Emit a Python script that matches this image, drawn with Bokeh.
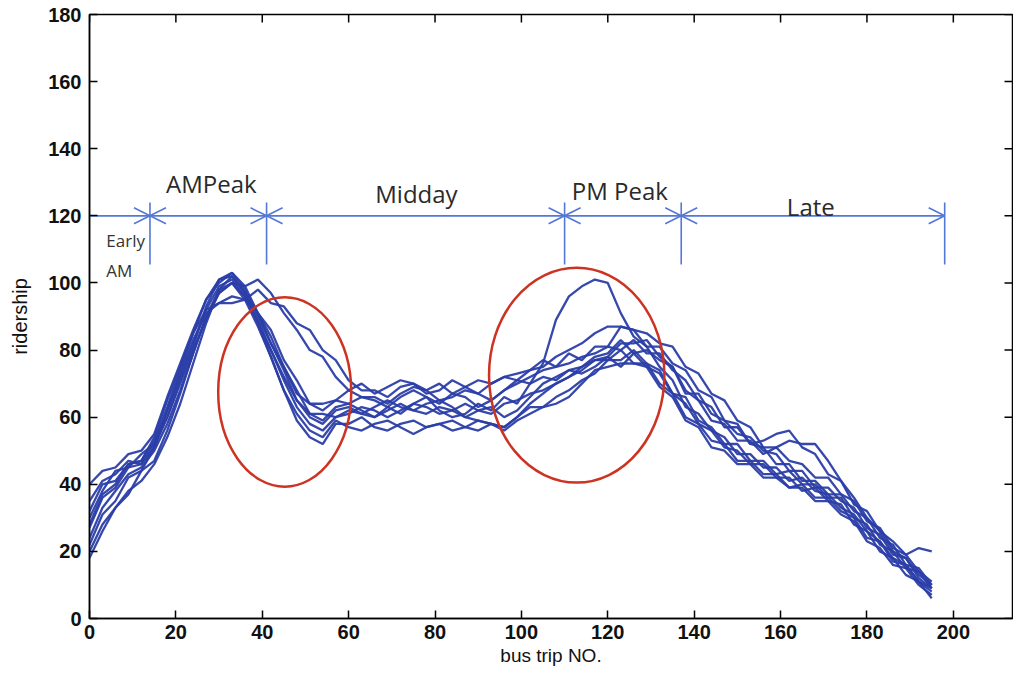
from bokeh.plotting import figure
from bokeh.models import Range1d, Arrow, OpenHead, FixedTicker
from bokeh.core.properties import value
from bokeh.embed import file_html
from bokeh.resources import INLINE

# ---------------- data ----------------
trip = [0, 3, 6, 9, 12, 15, 18, 21, 24, 27, 30, 33, 36, 39, 42, 45, 48, 51, 54, 57,
        60, 63, 66, 69, 72, 75, 78, 81, 84, 87, 90, 93, 96, 99, 102, 105, 108, 111, 114, 117,
        120, 123, 126, 129, 132, 135, 138, 141, 144, 147, 150, 153, 156, 159, 162, 165, 168, 171, 174, 177,
        180, 183, 186, 189, 192, 195]

day1 = [24, 33, 38, 43, 45, 50, 58, 68, 79, 90, 97, 100, 96, 88, 80, 72, 65, 61, 59, 63,
        64, 62, 60, 63, 61, 64, 66, 62, 60, 61, 64, 62, 66, 64, 70, 76, 89, 96, 99, 101,
        100, 91, 84, 81, 75, 71, 63, 61, 56, 54, 49, 49, 45, 45, 41, 42, 38, 37, 33, 31,
        26, 23, 18, 16, 11, 8]
day2 = [30, 38, 44, 45, 49, 52, 60, 70, 80, 89, 97, 100, 99, 101, 97, 91, 86, 80, 78, 72,
        68, 66, 66, 64, 67, 69, 68, 65, 66, 68, 67, 65, 68, 71, 70, 72, 71, 74, 75, 78,
        79, 83, 79, 80, 77, 75, 67, 67, 61, 59, 55, 54, 50, 49, 44, 44, 39, 39, 35, 33,
        27, 25, 19, 18, 13, 10]
day3 = [35, 41, 43, 47, 46, 51, 62, 73, 83, 91, 94, 96, 95, 98, 94, 93, 88, 86, 80, 77,
        71, 68, 68, 66, 69, 70, 67, 68, 71, 69, 67, 70, 72, 73, 74, 77, 75, 79, 77, 81,
        81, 87, 86, 85, 82, 81, 75, 73, 67, 65, 59, 57, 51, 51, 47, 46, 42, 42, 37, 35,
        29, 27, 21, 19, 14, 11]
day4 = [20, 28, 33, 38, 41, 46, 54, 64, 76, 88, 98, 102, 97, 88, 78, 68, 59, 54, 52, 58,
        58, 60, 57, 56, 58, 59, 57, 58, 56, 57, 59, 58, 57, 60, 63, 63, 66, 68, 71, 73,
        77, 77, 80, 76, 74, 67, 64, 58, 56, 51, 50, 46, 46, 42, 42, 38, 39, 35, 34, 28,
        26, 20, 18, 13, 11, 6]
day5 = [40, 44, 45, 49, 50, 55, 66, 76, 86, 95, 100, 103, 98, 90, 82, 75, 67, 64, 62, 65,
        64, 66, 65, 63, 66, 68, 66, 64, 67, 66, 63, 65, 68, 70, 72, 74, 75, 76, 78, 79,
        81, 80, 83, 79, 79, 74, 71, 65, 63, 57, 57, 52, 53, 55, 56, 51, 49, 43, 41, 34,
        32, 26, 23, 19, 21, 20]
day6 = [27, 36, 39, 45, 46, 52, 62, 72, 82, 92, 99, 101, 96, 89, 80, 71, 63, 58, 56, 60,
        61, 63, 62, 60, 62, 64, 63, 61, 62, 64, 62, 61, 64, 65, 67, 68, 70, 72, 75, 77,
        77, 80, 76, 76, 70, 67, 60, 58, 53, 52, 47, 47, 43, 43, 39, 40, 36, 36, 32, 30,
        24, 23, 17, 16, 11, 9]
day7 = [22, 31, 35, 42, 44, 51, 60, 71, 81, 93, 101, 103, 99, 91, 84, 75, 68, 61, 61, 60,
        62, 61, 63, 65, 63, 62, 64, 65, 63, 60, 62, 63, 60, 62, 66, 70, 72, 74, 73, 75,
        78, 75, 79, 75, 73, 67, 66, 59, 57, 52, 52, 47, 47, 43, 44, 40, 40, 36, 36, 30,
        28, 22, 20, 15, 14, 9]
day8 = [18, 26, 33, 37, 44, 47, 56, 67, 79, 90, 98, 100, 95, 87, 78, 68, 61, 56, 54, 59,
        57, 56, 58, 59, 57, 55, 57, 58, 59, 57, 56, 58, 56, 59, 61, 63, 64, 66, 70, 74,
        75, 76, 76, 75, 69, 66, 59, 57, 51, 50, 46, 46, 42, 42, 39, 39, 35, 35, 31, 29,
        23, 21, 16, 15, 10, 7]
day9 = [32, 40, 41, 46, 47, 54, 65, 75, 85, 92, 94, 94, 95, 91, 86, 77, 71, 64, 64, 65,
        68, 70, 67, 69, 71, 70, 68, 70, 67, 69, 71, 70, 72, 71, 74, 75, 78, 80, 82, 85,
        87, 87, 86, 81, 81, 76, 74, 68, 66, 59, 58, 52, 51, 46, 46, 41, 41, 37, 37, 32,
        30, 24, 22, 16, 15, 10]
day10 = [28, 37, 40, 46, 47, 53, 63, 74, 85, 95, 101, 102, 97, 91, 82, 74, 65, 60, 58, 62,
         63, 61, 60, 62, 64, 62, 61, 63, 62, 60, 59, 58, 57, 60, 64, 67, 70, 72, 74, 77,
         78, 82, 82, 83, 78, 75, 68, 65, 59, 58, 53, 53, 49, 51, 53, 52, 52, 47, 41, 36,
         30, 26, 20, 18, 12, 9]

series = [day1, day2, day3, day4, day5, day6, day7, day8, day9, day10]

x_ticks = [0, 20, 40, 60, 80, 100, 120, 140, 160, 180, 200]
y_ticks = [0, 20, 40, 60, 80, 100, 120, 140, 160, 180]

period_bounds = [0, 14, 41, 110, 137, 198]
period_names = ["AMPeak", "Midday", "PM Peak", "Late"]

# ---------------- figure ----------------
LINE = "#2b3ea8"
ANN = "#5577d6"
RED = "#cc3322"
X_MAX, Y_MAX = 213.7, 180

p = figure(width=1013, height=671, output_backend="svg", toolbar_location=None,
           x_range=Range1d(0, X_MAX), y_range=Range1d(0, Y_MAX),
           min_border_left=89, min_border_right=1, min_border_top=14, min_border_bottom=53,
           x_axis_label="bus trip NO.", y_axis_label="ridership")
p.xgrid.visible = False
p.ygrid.visible = False
p.outline_line_color = "black"
p.outline_line_width = 1.5

for ax in (p.xaxis[0], p.yaxis[0]):
    ax.major_tick_in = 8
    ax.major_tick_out = 0
    ax.minor_tick_line_color = None
    ax.axis_line_width = 1.5
    ax.major_tick_line_width = 1.5
    ax.major_label_text_font_style = "bold"
    ax.major_label_text_color = "#111111"
    ax.axis_label_text_font = "Liberation Sans"
    ax.axis_label_text_font_style = "normal"
    ax.axis_label_text_color = "#111111"

p.xaxis[0].ticker = FixedTicker(ticks=x_ticks)
p.yaxis[0].ticker = FixedTicker(ticks=y_ticks)
p.xaxis[0].major_label_text_font = "Liberation Sans Narrow, Liberation Sans"
p.yaxis[0].major_label_text_font = "Liberation Sans"
p.xaxis[0].major_label_text_font_size = "20px"
p.yaxis[0].major_label_text_font_size = "20px"
p.xaxis[0].major_label_standoff = 6
p.yaxis[0].major_label_standoff = 8
p.xaxis[0].axis_label_text_font_size = "19px"
p.yaxis[0].axis_label_text_font_size = "20px"
p.xaxis[0].axis_label_standoff = 3
p.yaxis[0].axis_label_standoff = 14

# mirrored inward ticks on top and right edges
p.ray(x=x_ticks, y=Y_MAX, length=8, length_units="screen", angle=-90, angle_units="deg",
      line_color="black", line_width=1.5)
p.ray(x=X_MAX, y=y_ticks, length=8, length_units="screen", angle=180, angle_units="deg",
      line_color="black", line_width=1.5)

# ridership lines
for s in series:
    p.line(trip, s, line_color=LINE, line_width=2.3, line_alpha=0.95)

# period annotation
yb = 120
p.segment(x0=period_bounds[1:], y0=105.5, x1=period_bounds[1:], y1=124,
          line_color=ANN, line_width=1.6)
p.segment(x0=period_bounds[0], y0=yb, x1=period_bounds[-1], y1=yb, line_color=ANN, line_width=1.6)
p.add_layout(Arrow(x_start=period_bounds[0], y_start=yb, x_end=period_bounds[1], y_end=yb,
                   line_alpha=0, end=OpenHead(size=16, line_color=ANN, line_width=1.6)))
for a, b in zip(period_bounds[1:-1], period_bounds[2:]):
    p.add_layout(Arrow(x_start=a, y_start=yb, x_end=b, y_end=yb, line_alpha=0,
                       start=OpenHead(size=16, line_color=ANN, line_width=1.6),
                       end=OpenHead(size=16, line_color=ANN, line_width=1.6)))

lab_x = [28.2, 75.7, 122.8, 167.0]
lab_y = [129.6, 126.8, 127.5, 122.8]
p.text(x=lab_x, y=lab_y, text=period_names, text_align="center", text_baseline="middle",
       text_font=value("Open Sans"), text_font_size="24px", text_font_style="normal",
       text_color="#2a2a2a")
p.text(x=[3.9, 3.9], y=[112.6, 103.8], text=["Early", "AM"], text_align="left",
       text_baseline="middle", text_font=value("Open Sans"), text_font_size="17px",
       text_color="#333333")

# highlighted regions
p.ellipse(x=[45.2, 112.8], y=[67.5, 72.5], width=[30.8, 40.6], height=[56.4, 64.0],
          fill_color=None, line_color=RED, line_width=2.5)

open("out.html", "w").write(file_html(p, INLINE))
